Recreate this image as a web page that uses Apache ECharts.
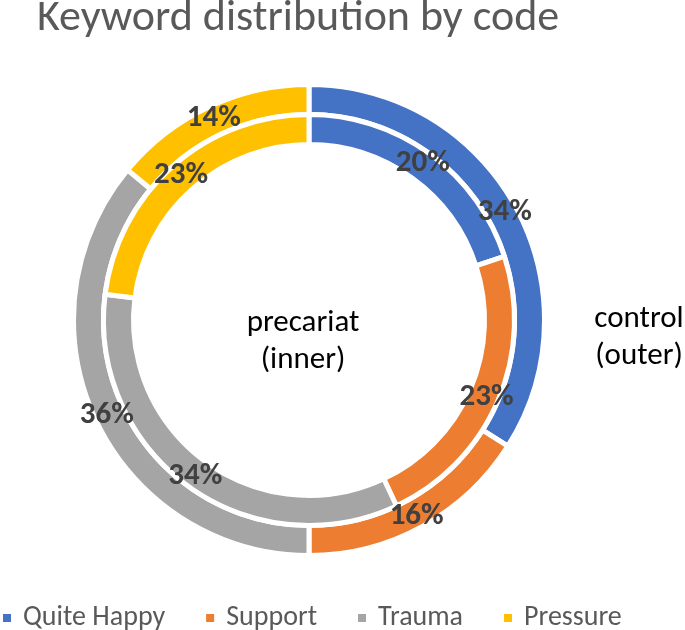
<!DOCTYPE html>
<html><head><meta charset="utf-8">
<script src="https://cdn.jsdelivr.net/npm/echarts@6/dist/echarts.min.js"></script>
<style>html,body{margin:0;padding:0;background:#fff}#c{width:685px;height:630px}</style>
</head><body><div id="c"></div><script>
// Data
const categories = ['Quite Happy', 'Support', 'Trauma', 'Pressure'];
const controlValues = [34, 16, 36, 14];     // outer ring (%)
const precariatValues = [20, 23, 34, 23];  // inner ring (%)
const palette = ['#4472C4', '#ED7D31', '#A5A5A5', '#FFC000'];
const titleText = 'Keyword distribution by code';
const innerName = 'precariat\n(inner)';
const outerName = 'control\n(outer)';

const FONT = 'Carlito, Calibri, "Open Sans", sans-serif';
const chart = echarts.init(document.getElementById('c'), null, {renderer: 'canvas'});

function ring(name, values, radius) {
  return {
    name: name,
    type: 'pie',
    center: [309, 320],
    radius: radius,
    startAngle: 90,
    clockwise: true,
    avoidLabelOverlap: false,
    silent: true,
    itemStyle: {borderColor: '#ffffff', borderWidth: 5},
    label: {
      show: true, position: 'inside', formatter: '{c}%',
      color: '#404040', fontFamily: FONT, fontWeight: 'bold', fontSize: 31
    },
    labelLine: {show: false},
    emphasis: {disabled: true},
    data: categories.map((c, i) => ({name: c, value: values[i]}))
  };
}

chart.setOption({
  animation: false,
  color: palette,
  title: {
    text: titleText, left: 37, top: -3, padding: 0,
    textStyle: {color: '#595959', fontFamily: FONT, fontWeight: 'normal', fontSize: 44}
  },
  legend: {
    data: categories, left: 1, top: 604, padding: 0,
    icon: 'rect', itemWidth: 10, itemHeight: 10, itemGap: 39,
    textStyle: {color: '#595959', fontFamily: FONT, fontSize: 28, padding: [0, 0, 0, 6]}
  },
  graphic: [
    {type: 'text', x: 303, y: 342, silent: true,
     style: {text: innerName, fill: '#000', font: '31px ' + FONT, align: 'center', verticalAlign: 'middle', lineHeight: 37}},
    {type: 'text', x: 639, y: 338, silent: true,
     style: {text: outerName, fill: '#000', font: '31px ' + FONT, align: 'center', verticalAlign: 'middle', lineHeight: 37}}
  ],
  series: [
    ring('control', controlValues, [205.5, 235.5]),
    ring('precariat', precariatValues, [175.5, 205.5])
  ]
});
</script></body></html>
